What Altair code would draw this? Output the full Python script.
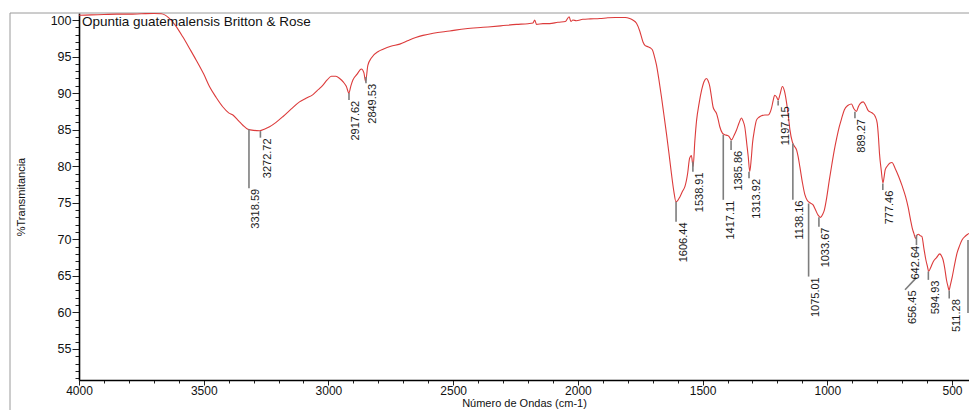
import altair as alt
import pandas as pd

# ---- spectrum (wavenumber cm-1, %T) ----
wavenumber = [4000, 3950, 3900, 3850, 3800, 3750, 3700, 3670, 3640, 3610, 3584, 3555, 3530, 3500,
              3477, 3450, 3423, 3400, 3383, 3360, 3343, 3323, 3300, 3276, 3255, 3236, 3210, 3182,
              3150, 3116, 3090, 3062, 3040, 3022, 3005, 2988, 2970, 2955, 2940, 2928, 2918, 2910,
              2902, 2885, 2868, 2858, 2851, 2842, 2828, 2800, 2781, 2750, 2714, 2680, 2650, 2621,
              2580, 2514, 2450, 2380, 2310, 2246, 2200, 2180, 2173, 2166, 2140, 2113, 2080, 2050,
              2035, 2028, 2020, 2006, 1980, 1950, 1912, 1880, 1850, 1810, 1792, 1780, 1765, 1752,
              1739, 1730, 1719, 1710, 1701, 1693, 1685, 1675, 1665, 1655, 1645, 1635, 1625, 1615,
              1607, 1600, 1591, 1580, 1571, 1560, 1552, 1545, 1538, 1531, 1524, 1514, 1504, 1494,
              1484, 1478, 1471, 1465, 1458, 1451, 1444, 1437, 1431, 1420, 1411, 1400, 1395, 1384,
              1374, 1364, 1354, 1344, 1338, 1331, 1322, 1317, 1311, 1305, 1300, 1292, 1284, 1274,
              1264, 1250, 1237, 1230, 1224, 1217, 1211, 1204, 1197, 1190, 1180, 1172, 1163, 1156,
              1150, 1140, 1135, 1123, 1117, 1110, 1100, 1090, 1080, 1070, 1057, 1047, 1037, 1027,
              1019, 1012, 1002, 992, 982, 972, 962, 952, 942, 932, 918, 903, 894, 883, 876, 870,
              856, 846, 836, 826, 817, 808, 800, 795, 791, 784, 777, 772, 768, 760, 750, 741, 728,
              714, 700, 686, 676, 666, 660, 653, 646, 640, 635, 628, 621, 613, 605, 598, 594, 586,
              576, 562, 549, 542, 536, 529, 522, 516, 512, 507, 499, 490, 480, 470, 460, 446, 437,
              432]
transmittance = [100.65, 100.7, 100.75, 100.8, 100.8, 100.85, 100.9, 100.85, 100.3, 99.1, 97.7, 96.0,
                 94.5, 92.6, 90.9, 89.4, 88.1, 87.3, 87.0, 86.2, 85.6, 85.05, 84.9, 84.86, 85.1, 85.4,
                 86.0, 86.8, 87.8, 88.8, 89.3, 89.8, 90.5, 91.1, 91.8, 92.3, 92.3, 92.0, 91.5, 90.9,
                 90.0, 91.0, 91.8, 92.6, 93.3, 92.8, 91.6, 93.8, 94.8, 95.7, 96.0, 96.4, 96.7, 97.2,
                 97.6, 97.9, 98.2, 98.5, 98.8, 99.0, 99.2, 99.4, 99.5, 99.6, 100.0, 99.4, 99.5, 99.5,
                 99.7, 99.8, 100.45, 99.8, 100.0, 99.9, 100.1, 100.15, 100.2, 100.3, 100.35, 100.35,
                 100.2, 100.0, 99.55, 98.5, 97.0, 96.5, 96.35, 96.2, 95.9, 95.0, 93.85, 91.8, 89.5,
                 87.0, 84.5, 81.8, 79.0, 76.5, 75.15, 75.3, 75.8, 76.6, 77.2, 79.0, 81.1, 81.45, 79.95,
                 83.5, 86.3, 88.6, 90.4, 91.6, 92.0, 91.7, 90.9, 89.6, 88.1, 87.6, 87.2, 86.3, 85.4,
                 84.5, 84.3, 84.2, 84.1, 83.6, 84.2, 84.95, 85.9, 86.6, 86.2, 85.4, 82.8, 81.3, 79.25,
                 81.0, 83.1, 85.0, 86.3, 86.7, 86.9, 87.0, 87.0, 87.3, 87.9, 89.0, 89.7, 89.5, 89.05,
                 89.8, 90.9, 90.3, 88.6, 86.8, 85.0, 83.3, 82.9, 82.2, 81.3, 79.9, 77.8, 76.1, 75.3,
                 75.0, 74.7, 74.0, 73.3, 73.0, 73.4, 74.0, 75.8, 78.1, 80.2, 82.2, 83.9, 85.4, 86.6,
                 87.7, 88.3, 88.5, 87.9, 87.5, 88.1, 88.5, 88.8, 88.3, 87.6, 87.4, 87.2, 86.8, 85.9,
                 84.0, 81.8, 79.5, 77.7, 78.6, 79.5, 80.0, 80.4, 80.5, 79.7, 78.6, 77.3, 75.8, 74.4,
                 72.6, 71.6, 70.8, 70.1, 70.6, 70.7, 70.5, 70.4, 68.8, 67.2, 66.2, 65.6, 66.1, 66.9,
                 67.5, 68.0, 67.7, 67.2, 66.0, 64.4, 63.5, 63.0, 63.7, 64.9, 66.5, 68.1, 69.1, 69.9,
                 70.45, 70.7, 70.8]

# ---- peak annotations ----
peak_labels = ["3318.59", "3272.72", "2917.62", "2849.53", "1606.44", "1538.91", "1417.11",
               "1385.86", "1313.92", "1197.15", "1138.16", "1075.01", "1033.67", "889.27",
               "777.46", "656.45", "642.64", "594.93", "511.28"]
peak_wn = [3318.59, 3272.72, 2917.62, 2849.53, 1606.44, 1538.91, 1417.11, 1385.86, 1313.92,
           1197.15, 1138.16, 1075.01, 1033.67, 889.27, 777.46, 656.45, 642.64, 594.93, 511.28]
# leader line: start (near the curve) and end (at the label)
lead_top_wn = [3318.59, 3272.72, 2917.62, 2849.53, 1606.44, 1538.91, 1417.11, 1385.86, 1313.92,
               1197.15, 1138.16, 1075.01, 1033.67, 889.27, 777.46, 642.6, 642.64, 594.93, 511.28]
lead_top_t = [85.05, 84.8, 90.0, 92.2, 75.15, 80.6, 84.3, 83.5, 79.25, 89.0, 83.1, 74.9, 73.0,
              87.45, 77.65, 64.75, 70.6, 65.6, 63.0]
lead_bot_wn = [3318.59, 3272.72, 2917.62, 2849.53, 1606.44, 1538.91, 1417.11, 1385.86, 1313.92,
               1197.15, 1138.16, 1075.01, 1033.67, 889.27, 777.46, 688.5, 642.64, 594.93, 511.28]
lead_bot_t = [77.0, 83.9, 89.05, 91.35, 72.4, 79.25, 75.4, 82.2, 78.35, 88.3, 75.4, 64.9, 71.7,
              86.55, 76.75, 63.1, 69.2, 64.45, 61.9]
# label anchor (wavenumber, %T)
label_wn = [3318.59, 3272.72, 2917.62, 2849.53, 1606.44, 1538.91, 1417.11, 1385.86, 1313.92,
            1197.15, 1138.16, 1075.01, 1033.67, 889.27, 777.46, 688.5, 675.0, 594.93, 511.28]
label_t = [76.9, 83.8, 88.95, 91.25, 72.3, 79.15, 75.3, 82.1, 78.25, 88.2, 75.3, 64.8, 71.6,
           86.45, 76.65, 63.0, 69.1, 64.35, 61.8]
# leader of a peak whose label falls outside the picture
edge_wn = [436]
edge_top_t = [69.9]
edge_bot_t = [59.9]

title_text = "Opuntia guatemalensis Britton & Rose"
x_ticks = list(range(500, 4001, 100))
y_ticks = list(range(51, 101))

spec_df = pd.DataFrame({"w": wavenumber, "t": transmittance})
lead_df = pd.DataFrame({"w": lead_top_wn + edge_wn, "w2": lead_bot_wn + edge_wn,
                        "t": lead_top_t + edge_top_t, "t2": lead_bot_t + edge_bot_t})
lab_df = pd.DataFrame({"w": label_wn, "t": label_t, "label": peak_labels})
title_df = pd.DataFrame({"label": [title_text]})

FONT = "Liberation Sans"

xscale = alt.Scale(domain=[4000, 432], nice=False, zero=False)
yscale = alt.Scale(domain=[50.75, 100.96], nice=False, zero=False)

xaxis = alt.Axis(
    values=x_ticks, format="d",
    labelExpr="datum.value % 500 === 0 ? datum.label : ''",
    tickSize={"condition": {"test": "datum.value % 500 === 0", "value": 5}, "value": 3},
    grid=False, domainColor="black", domainWidth=1.6, tickColor="#222", tickWidth=1,
    labelFont=FONT, labelFontSize=12, labelColor="#111", labelPadding=0, labelFlush=False,
    labelOverlap=False,
    title="Número de Ondas (cm-1)", titleFont=FONT, titleFontSize=11, titleFontWeight="normal",
    titleColor="#111", titlePadding=1.5,
)
yaxis = alt.Axis(
    values=y_ticks,
    labelExpr="datum.value % 5 === 0 ? datum.label : ''",
    tickSize={"condition": {"test": "datum.value % 5 === 0", "value": 7}, "value": 4},
    grid=False, domainColor="black", domainWidth=1.6, tickColor="#222", tickWidth=1,
    labelFont=FONT, labelFontSize=12.5, labelColor="#111", labelPadding=1, labelFlush=False,
    labelOverlap=False,
    title="%Transmitancia", titleFont=FONT, titleFontSize=11, titleFontWeight="normal",
    titleColor="#111", titlePadding=24,
)

X = alt.X("w:Q", scale=xscale, axis=xaxis)
Y = alt.Y("t:Q", scale=yscale, axis=yaxis)

spectrum = alt.Chart(spec_df).mark_line(color="#dc3b3b", strokeWidth=1.1, interpolate="monotone").encode(
    x=X, y=Y, order=alt.Order("w:Q", sort="descending"))

leaders = alt.Chart(lead_df).mark_rule(color="#7d7d7d", strokeWidth=1.6).encode(
    x=X, x2="w2:Q", y=Y, y2="t2:Q")

labels = alt.Chart(lab_df).mark_text(
    angle=270, align="right", baseline="top", font=FONT, fontSize=11, color="#1a1a1a", dy=1.5
).encode(x=X, y=Y, text="label:N")

title = alt.Chart(title_df).mark_text(
    align="left", baseline="alphabetic", font=FONT, fontSize=13.5, color="#111"
).encode(x=alt.value(3), y=alt.value(12.5), text="label:N")

frame_top = alt.Chart(title_df).mark_rule(color="#9a9a9a", strokeWidth=1).encode(
    x=alt.value(-69), x2=alt.value(890), y=alt.value(0))
frame_left = alt.Chart(title_df).mark_rule(color="#9a9a9a", strokeWidth=1).encode(
    x=alt.value(-69), y=alt.value(0), y2=alt.value(400))

chart = alt.layer(frame_top, frame_left, spectrum, leaders, labels, title).properties(
    width=890, height=367,
    autosize=alt.AutoSizeParams(type="none"),
    padding={"left": 79, "top": 13, "right": 0, "bottom": 30},
    background="white",
).configure_view(stroke=None)

chart.save("out.html", embed_options={"renderer": "svg", "actions": False})
